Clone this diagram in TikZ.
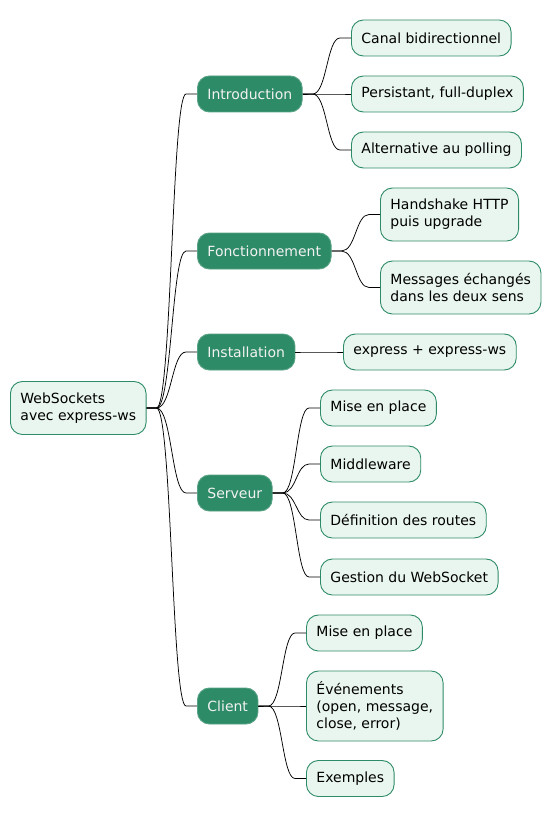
\documentclass[tikz,border=0pt]{standalone}
\usepackage{fontspec}
\setmainfont{DejaVu Sans}
\usetikzlibrary{calc}
\definecolor{mmdark}{HTML}{2E8B67}
\definecolor{mmlight}{HTML}{E9F6EF}
\definecolor{mmtxt}{HTML}{F2F2F2}
\tikzset{
  mmbase/.style={rounded corners=12pt, anchor=west, align=left, inner xsep=10pt, inner ysep=0pt,
    font=\fontsize{14pt}{17pt}\selectfont, minimum height=36pt, line width=0.9pt},
  lvlone/.style={mmbase, fill=mmdark, draw=mmdark!80!white, text=mmtxt},
  lvltwo/.style={mmbase, fill=mmlight, draw=mmdark, text=black},
  twol/.style={minimum height=53pt},
  threel/.style={minimum height=70pt},
  conn/.style={draw=black, line width=0.75pt},
}
\newcommand\mmconn[2]{%
  \draw[conn] let \p1=(#1.east), \p2=(#2.west), \n1={(\x1+\x2)/2} in
    (#1.east) -- (\x1+10pt,\y1) .. controls (\n1,\y1) and (\n1,\y2) .. (\x2-11pt,\y2) -- (#2.west);}
\begin{document}
\begin{tikzpicture}[x=1pt,y=-1pt]
\useasboundingbox (0,0) rectangle (551,818);
\fill[white] (0,0) rectangle (551,818);
% root
\node[lvltwo, twol] (root) at (10,408) {WebSockets\\avec express-ws};
% level 1
\node[lvlone] (intro) at (197,94) {Introduction};
\node[lvlone] (fonct) at (197,251) {Fonctionnement};
\node[lvlone] (inst) at (197,352) {Installation};
\node[lvlone] (serv) at (197,493) {Serveur};
\node[lvlone] (cli) at (197,706) {Client};
% level 2
\node[lvltwo] (canal) at (351,38) {Canal bidirectionnel};
\node[lvltwo] (pers) at (351,94) {Persistant, full-duplex};
\node[lvltwo] (alt) at (351,150) {Alternative au polling};
\node[lvltwo, twol] (hand) at (380,214.5) {Handshake HTTP\\puis upgrade};
\node[lvltwo, twol] (mess) at (380,287.5) {Messages échangés\\dans les deux sens};
\node[lvltwo] (expr) at (343,352) {express + express-ws};
\node[lvltwo] (mise) at (320,408) {Mise en place};
\node[lvltwo] (midd) at (320,464) {Middleware};
\node[lvltwo] (defi) at (320,520) {Définition des routes};
\node[lvltwo] (gest) at (320,577) {Gestion du WebSocket};
\node[lvltwo] (misec) at (306,633) {Mise en place};
\node[lvltwo, threel] (even) at (306,706) {Événements\\(open, message,\\close, error)};
\node[lvltwo] (exem) at (306,778.5) {Exemples};
% connectors
\mmconn{root}{intro}
\mmconn{root}{fonct}
\mmconn{root}{inst}
\mmconn{root}{serv}
\mmconn{root}{cli}
\mmconn{intro}{canal}
\mmconn{intro}{pers}
\mmconn{intro}{alt}
\mmconn{fonct}{hand}
\mmconn{fonct}{mess}
\mmconn{inst}{expr}
\mmconn{serv}{mise}
\mmconn{serv}{midd}
\mmconn{serv}{defi}
\mmconn{serv}{gest}
\mmconn{cli}{misec}
\mmconn{cli}{even}
\mmconn{cli}{exem}
\end{tikzpicture}
\end{document}
